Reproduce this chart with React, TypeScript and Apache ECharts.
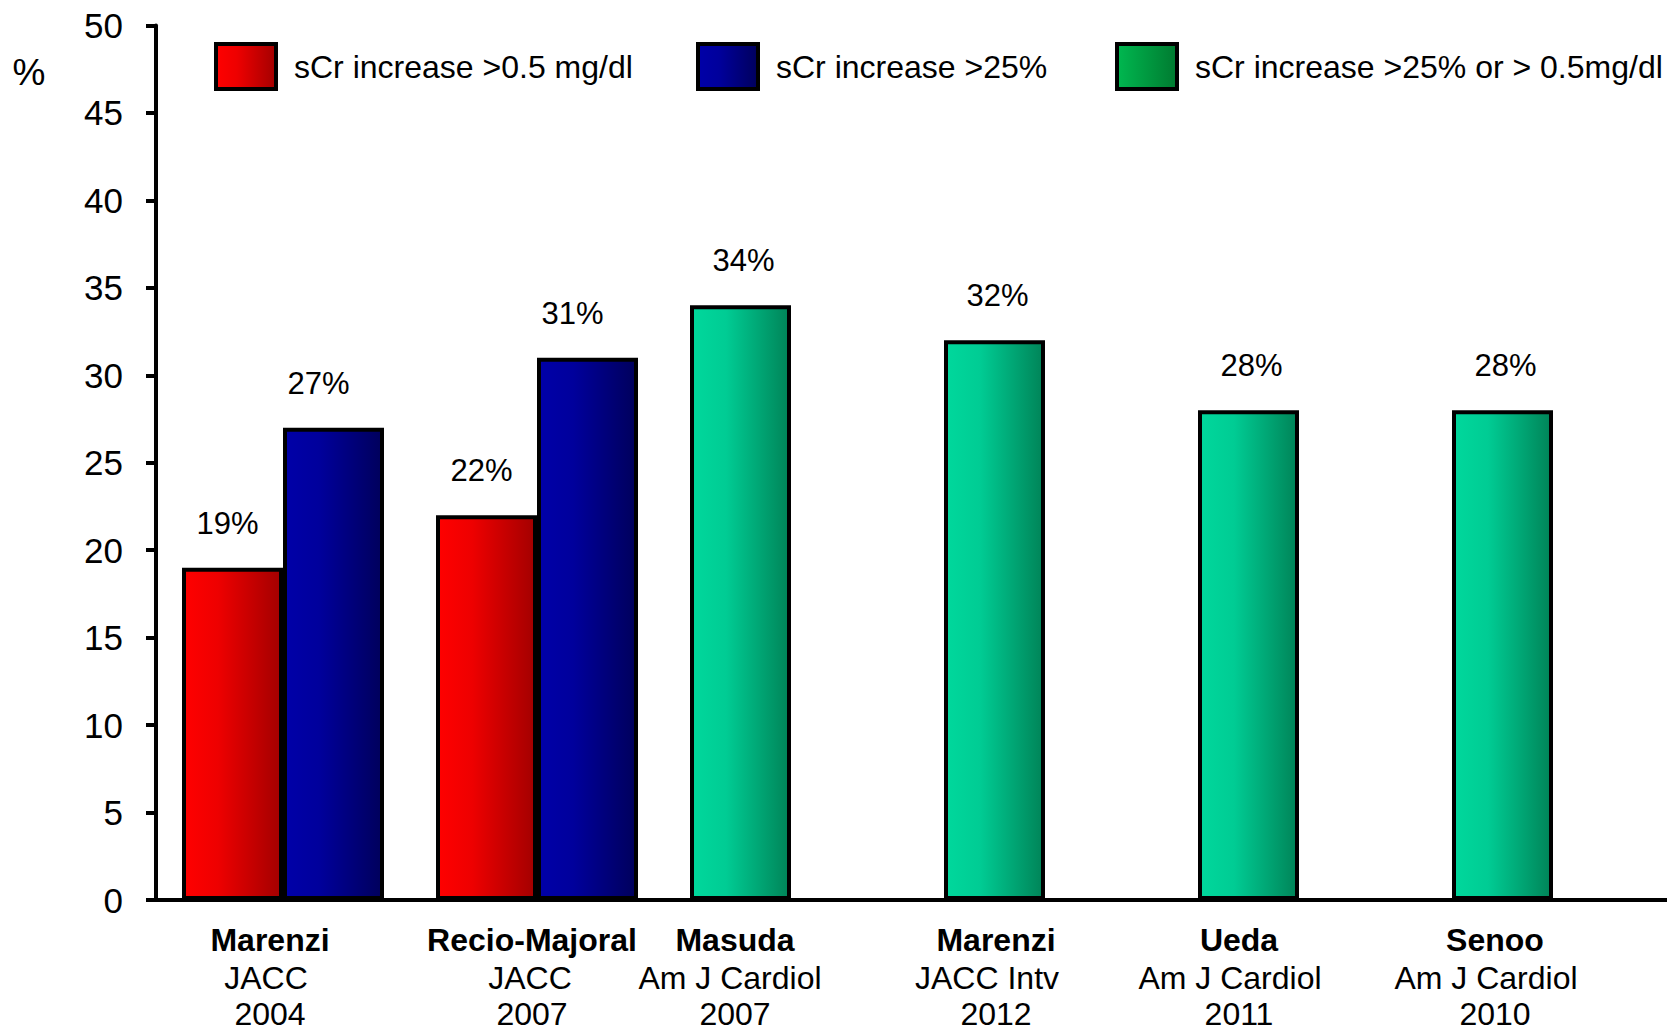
import React, { useEffect, useRef } from 'react';
import * as echarts from 'echarts';

// ---- data ----
const studyNames = ['Marenzi', 'Recio-Majoral', 'Masuda', 'Marenzi', 'Ueda', 'Senoo'];
const journals = ['JACC', 'JACC', 'Am J Cardiol', 'JACC Intv', 'Am J Cardiol', 'Am J Cardiol'];
const years = ['2004', '2007', '2007', '2012', '2011', '2010'];
const seriesNames = ['sCr increase >0.5 mg/dl', 'sCr increase >25%', 'sCr increase >25% or > 0.5mg/dl'];
const valuesAbs = [19, 22, null, null, null, null];
const valuesRel = [27, 31, null, null, null, null];
const valuesEither = [null, null, 34, 32, 28, 28];
const yMin = 0;
const yMax = 50;
const yStep = 5;

// ---- styles ----
const FONT = 'Liberation Sans, Arial, Helvetica, sans-serif';
const nameShift = [13, 5, 56, 49, 60, 58];
const journalShift = [17, 7, 61, 58, 69, 67];

const lg = (stops: [number, string][]) =>
  new echarts.graphic.LinearGradient(0, 0, 1, 0, stops.map(([offset, color]) => ({ offset, color })));

const redFill = () => lg([[0, '#ff0000'], [0.35, '#ee0000'], [1, '#a30000']]);
const blueFill = () => lg([[0, '#0000a8'], [0.35, '#00009c'], [1, '#00005c']]);
const greenFill = () => lg([[0, '#00d89c'], [0.35, '#00cc94'], [1, '#008458']]);
const greenLegendFill = () => lg([[0, '#00b850'], [1, '#007a30']]);

export default function App() {
  const ref = useRef<HTMLDivElement>(null);

  useEffect(() => {
    if (!ref.current) return;
    const chart = echarts.init(ref.current, null, { renderer: 'svg' });

    const rich: Record<string, any> = {};
    studyNames.forEach((_, i) => {
      rich['n' + i] = { fontFamily: FONT, fontSize: 32, fontWeight: 'bold', color: '#000', lineHeight: 38, padding: [0, 2 * nameShift[i], 0, 0] };
      rich['j' + i] = { fontFamily: FONT, fontSize: 32, color: '#000', lineHeight: 38, padding: [0, 2 * journalShift[i], 0, 0] };
      rich['y' + i] = { fontFamily: FONT, fontSize: 32, color: '#000', lineHeight: 34, padding: [0, 2 * nameShift[i], 0, 0] };
    });

    const barLabel = (dx: number) => ({
      show: true,
      position: 'top',
      distance: 29,
      offset: [dx, 0],
      fontFamily: FONT,
      fontSize: 31,
      color: '#000',
      formatter: (p: any) => (p.value == null ? '' : p.value + '%'),
    });

    const legendBase = (left: number, name: string, fill: any) => ({
      left,
      top: 42,
      padding: 0,
      orient: 'horizontal',
      icon: 'rect',
      itemWidth: 60,
      itemHeight: 45,
      selectedMode: false,
      textStyle: { fontFamily: FONT, fontSize: 32, color: '#000', padding: [0, 0, 0, 13] },
      data: [{ name, itemStyle: { color: fill, borderColor: '#000', borderWidth: 4 } }],
    });

    chart.setOption({
      animation: false,
      backgroundColor: '#ffffff',
      textStyle: { fontFamily: FONT },
      grid: { left: 156, top: 25.5, width: 1524, height: 874.5, containLabel: false, outerBoundsMode: 'none' },
      legend: [
        legendBase(214, seriesNames[0], redFill()),
        legendBase(696, seriesNames[1], blueFill()),
        legendBase(1115, seriesNames[2], greenLegendFill()),
      ],
      graphic: [
        {
          type: 'text',
          x: 29,
          y: 72,
          style: { text: '%', fontFamily: FONT, fontSize: 37, fill: '#000', textAlign: 'center', textVerticalAlign: 'middle' },
        },
      ],
      xAxis: {
        type: 'category',
        data: studyNames.map((n, i) => `${n}|${journals[i]}|${years[i]}|${i}`),
        boundaryGap: true,
        axisLine: { lineStyle: { color: '#000', width: 4 } },
        axisTick: { show: false },
        axisLabel: {
          interval: 0,
          margin: 21,
          formatter: (_v: string, i: number) => `{n${i}|${studyNames[i]}}\n{j${i}|${journals[i]}}\n{y${i}|${years[i]}}`,
          rich,
        },
        splitLine: { show: false },
      },
      yAxis: {
        type: 'value',
        min: yMin,
        max: yMax,
        interval: yStep,
        axisLine: { show: true, lineStyle: { color: '#000', width: 4 } },
        axisTick: { show: true, inside: false, length: 10, lineStyle: { color: '#000', width: 4 } },
        axisLabel: { fontFamily: FONT, fontSize: 35, color: '#000', margin: 33 },
        splitLine: { show: false },
      },
      series: [
        {
          name: seriesNames[0],
          type: 'bar',
          stack: 'a',
          barWidth: 101,
          barGap: 0,
          data: valuesAbs,
          itemStyle: { color: redFill(), borderColor: '#000', borderWidth: 4 },
          label: barLabel(-5),
        },
        {
          name: seriesNames[1],
          type: 'bar',
          stack: 'b',
          barWidth: 101,
          barGap: 0,
          data: valuesRel,
          itemStyle: { color: blueFill(), borderColor: '#000', borderWidth: 4 },
          label: barLabel(-15),
        },
        {
          name: seriesNames[2],
          type: 'bar',
          stack: 'a',
          barWidth: 101,
          barGap: 0,
          data: valuesEither,
          itemStyle: { color: greenFill(), borderColor: '#000', borderWidth: 4 },
          label: barLabel(3),
        },
      ],
    });

    return () => chart.dispose();
  }, []);

  return (
    <div
      ref={ref}
      style={{ position: 'fixed', left: 0, top: 0, width: 1667, height: 1031, background: '#fff' }}
    />
  );
}
